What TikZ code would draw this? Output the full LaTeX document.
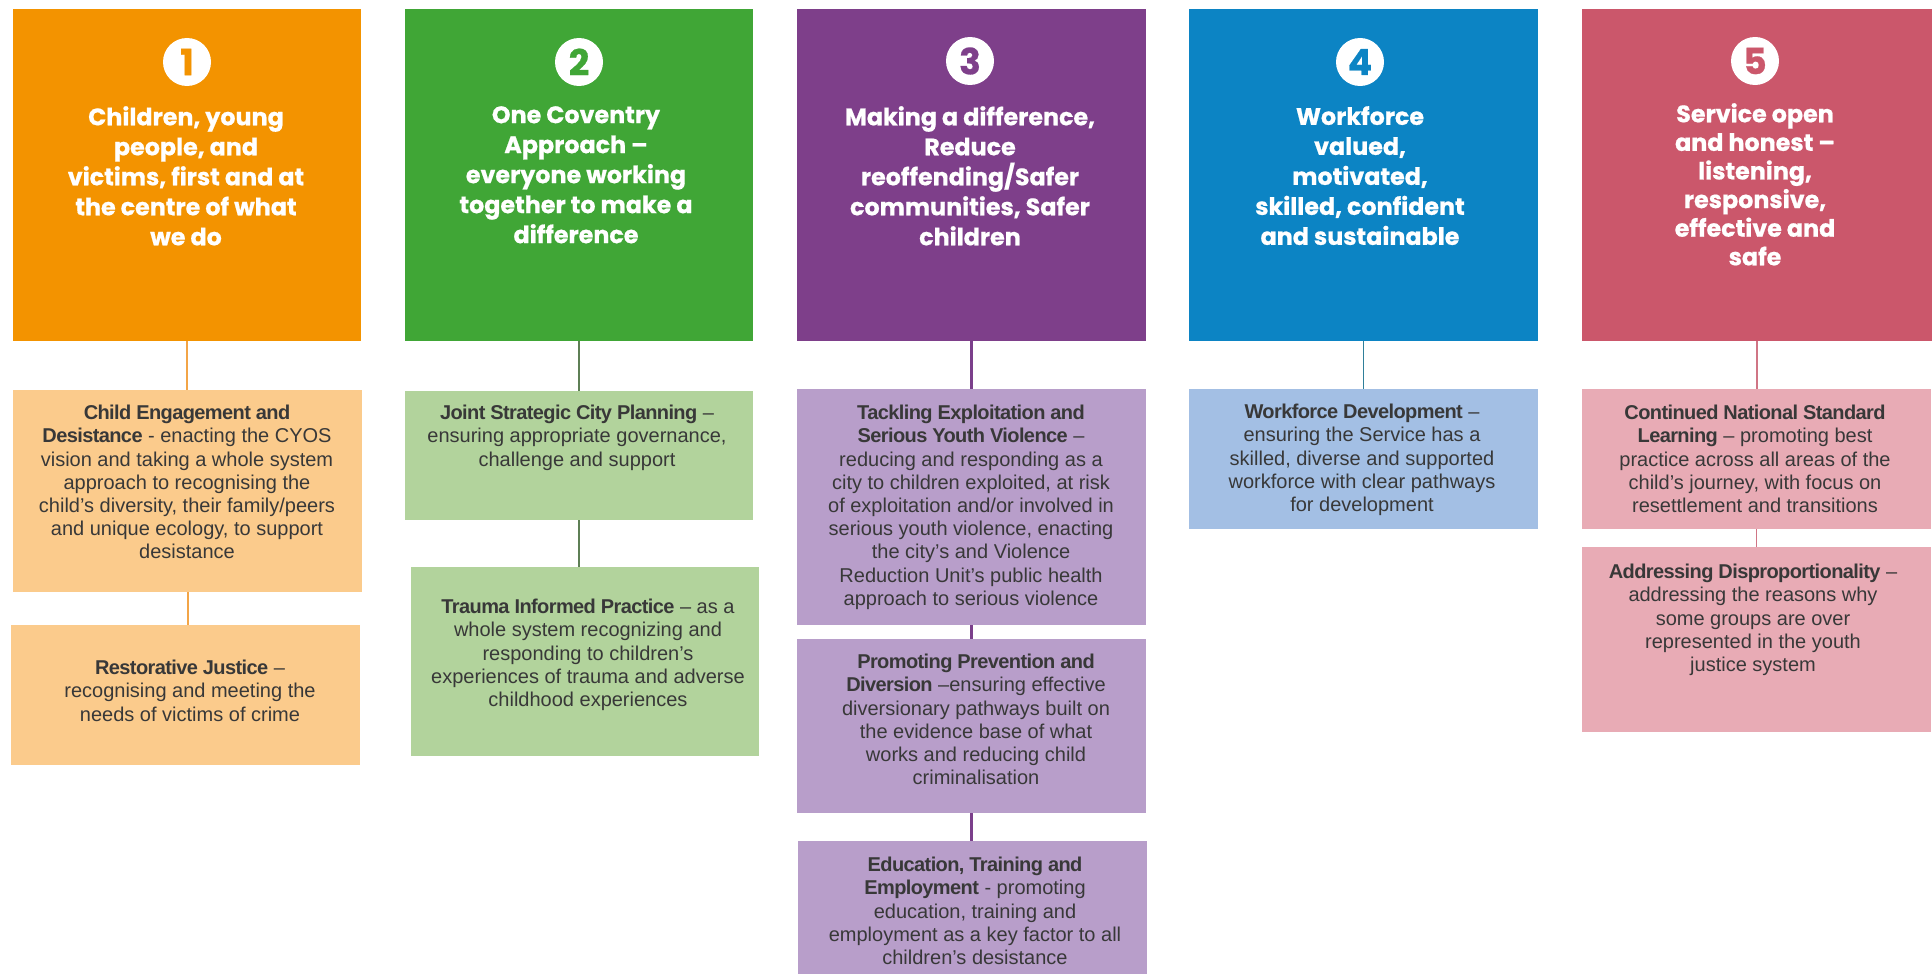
\documentclass[tikz,border=0pt]{standalone}
\usepackage{fontspec}
\setmainfont{Liberation Sans}
\newfontfamily\headfont[BoldFeatures={FakeBold=0.7}]{Poppins}
\usetikzlibrary{fit}
\newcommand\kw[1]{{\bfseries\addfontfeature{LetterSpace=-3}#1}}
\definecolor{cA}{HTML}{F39300}
\definecolor{cB}{HTML}{40A636}
\definecolor{cC}{HTML}{7E3F8A}
\definecolor{cD}{HTML}{0C84C4}
\definecolor{cE}{HTML}{CB576B}
\definecolor{lA}{HTML}{FBCB8C}
\definecolor{lB}{HTML}{B2D39C}
\definecolor{lC}{HTML}{B89ECA}
\definecolor{lD}{HTML}{A3BFE4}
\definecolor{lE}{HTML}{E8ABB5}
\definecolor{kA}{HTML}{F3A547}
\definecolor{kB}{HTML}{5E7F55}
\definecolor{kC}{HTML}{7B3F8B}
\definecolor{kD}{HTML}{2F7F9A}
\definecolor{kE}{HTML}{D07585}
\definecolor{txt}{HTML}{383838}
\tikzset{
  panel/.style={rectangle, inner sep=0pt, draw=none},
  numcirc/.style={circle, fill=white, minimum size=48pt, inner sep=0pt,
    font=\headfont\bfseries\fontsize{36}{36}\selectfont},
  headtext/.style={anchor=north, align=center, text=white, inner sep=0pt,
    font=\headfont\bfseries\fontsize{23.8}{30}\selectfont},
  bodytext/.style={anchor=north, align=center, text=txt, inner sep=0pt,
    font=\fontsize{20}{23.2}\selectfont},
  link/.style={line width=#1},
}
\begin{document}
\begin{tikzpicture}[x=1pt,y=-1pt]
\useasboundingbox (0,0) rectangle (1932,974);
\fill[white] (0,0) rectangle (1932,974);

% ---------- top panels ----------
\node[panel, fill=cA, fit={(13,9) (361,341)}] (t1) {};
\node[panel, fill=cB, fit={(405,9) (753,341)}] (t2) {};
\node[panel, fill=cC, fit={(797,9) (1146,341)}] (t3) {};
\node[panel, fill=cD, fit={(1189,9) (1538,341)}] (t4) {};
\node[panel, fill=cE, fit={(1582,9) (1932,341)}] (t5) {};

\node[numcirc, text=cA] (n1) at (187,62) {1};
\node[numcirc, text=cB] (n2) at (579,62) {2};
\node[numcirc, text=cC] (n3) at (970,61) {3};
\node[numcirc, text=cD] (n4) at (1360,62) {4};
\node[numcirc, text=cE] (n5) at (1755,61) {5};

\node[headtext] (h1) at (186,106) {Children, young\\people, and\\victims, first and at\\the centre of what\\we do};
\node[headtext] (h2) at (576,106) {One Coventry\\Approach –\\everyone working\\together to make a\\difference};
\node[headtext] (h3) at (970,106) {Making a difference,\\Reduce\\reoffending/Safer\\communities, Safer\\children};
\node[headtext] (h4) at (1360,106) {Workforce\\valued,\\motivated,\\skilled, confident\\and sustainable};
\node[headtext, font=\headfont\bfseries\fontsize{23.8}{28.6}\selectfont] (h5) at (1755,103) {Service open\\and honest –\\listening,\\responsive,\\effective and\\safe};

% ---------- sub panels ----------
\node[panel, fill=lA, fit={(13,390) (362,592)}] (s1a) {};
\node[panel, fill=lA, fit={(11,625) (360,765)}] (s1b) {};
\node[panel, fill=lB, fit={(405,391) (753,520)}] (s2a) {};
\node[panel, fill=lB, fit={(411,567) (759,756)}] (s2b) {};
\node[panel, fill=lC, fit={(797,389) (1146,625)}] (s3a) {};
\node[panel, fill=lC, fit={(797,639) (1146,813)}] (s3b) {};
\node[panel, fill=lC, fit={(798,841) (1147,974)}] (s3c) {};
\node[panel, fill=lD, fit={(1189,389) (1538,529)}] (s4a) {};
\node[panel, fill=lE, fit={(1582,389) (1931,529)}] (s5a) {};
\node[panel, fill=lE, fit={(1582,547) (1931,732)}] (s5b) {};

% ---------- connectors ----------
\draw[link=2pt, kA] (t1.south) -- (t1.south |- s1a.north);
\draw[link=2pt, kA] (s1a.south) -- (s1a.south |- s1b.north);
\draw[link=1.2pt, kB] (t2.south) -- (t2.south |- s2a.north);
\draw[link=1.2pt, kB] (s2a.south) -- (s2a.south |- s2b.north);
\draw[link=3pt, kC] (t3.south) -- (t3.south |- s3a.north);
\draw[link=3pt, kC] (s3a.south) -- (s3a.south |- s3b.north);
\draw[link=3pt, kC] (s3b.south) -- (s3b.south |- s3c.north);
\draw[link=1.3pt, kD] (t4.south) -- (t4.south |- s4a.north);
\draw[link=1.2pt, kE] (t5.south) -- (t5.south |- s5a.north);
\draw[link=1.2pt, kE] (s5a.south) -- (s5a.south |- s5b.north);

% ---------- texts ----------
\node[bodytext] (x1a) at (187,405) {\kw{Child Engagement and}\\\kw{Desistance} - enacting the CYOS\\vision and taking a whole system\\approach to recognising the\\child’s diversity, their family/peers\\and unique ecology, to support\\desistance};
\node[bodytext] (x1b) at (190,660) {\kw{Restorative Justice} –\\recognising and meeting the\\needs of victims of crime};
\node[bodytext] (x2a) at (577,405) {\kw{Joint Strategic City Planning} –\\ensuring appropriate governance,\\challenge and support};
\node[bodytext] (x2b) at (588,599) {\kw{Trauma Informed Practice} – as a\\whole system recognizing and\\responding to children’s\\experiences of trauma and adverse\\childhood experiences};
\node[bodytext] (x3a) at (971,405) {\kw{Tackling Exploitation and}\\\kw{Serious Youth Violence} –\\reducing and responding as a\\city to children exploited, at risk\\of exploitation and/or involved in\\serious youth violence, enacting\\the city’s and Violence\\Reduction Unit’s public health\\approach to serious violence};
\node[bodytext] (x3b) at (976,654) {\kw{Promoting Prevention and}\\\kw{Diversion} –ensuring effective\\diversionary pathways built on\\the evidence base of what\\works and reducing child\\criminalisation};
\node[bodytext] (x3c) at (975,857) {\kw{Education, Training and}\\\kw{Employment} - promoting\\education, training and\\employment as a key factor to all\\children’s desistance};
\node[bodytext] (x4a) at (1362,404) {\kw{Workforce Development} –\\ensuring the Service has a\\skilled, diverse and supported\\workforce with clear pathways\\for development};
\node[bodytext] (x5a) at (1755,405) {\kw{Continued National Standard}\\\kw{Learning} – promoting best\\practice across all areas of the\\child’s journey, with focus on\\resettlement and transitions};
\node[bodytext] (x5b) at (1753,564) {\kw{Addressing Disproportionality} –\\addressing the reasons why\\some groups are over\\represented in the youth\\justice system};
\end{tikzpicture}
\end{document}
